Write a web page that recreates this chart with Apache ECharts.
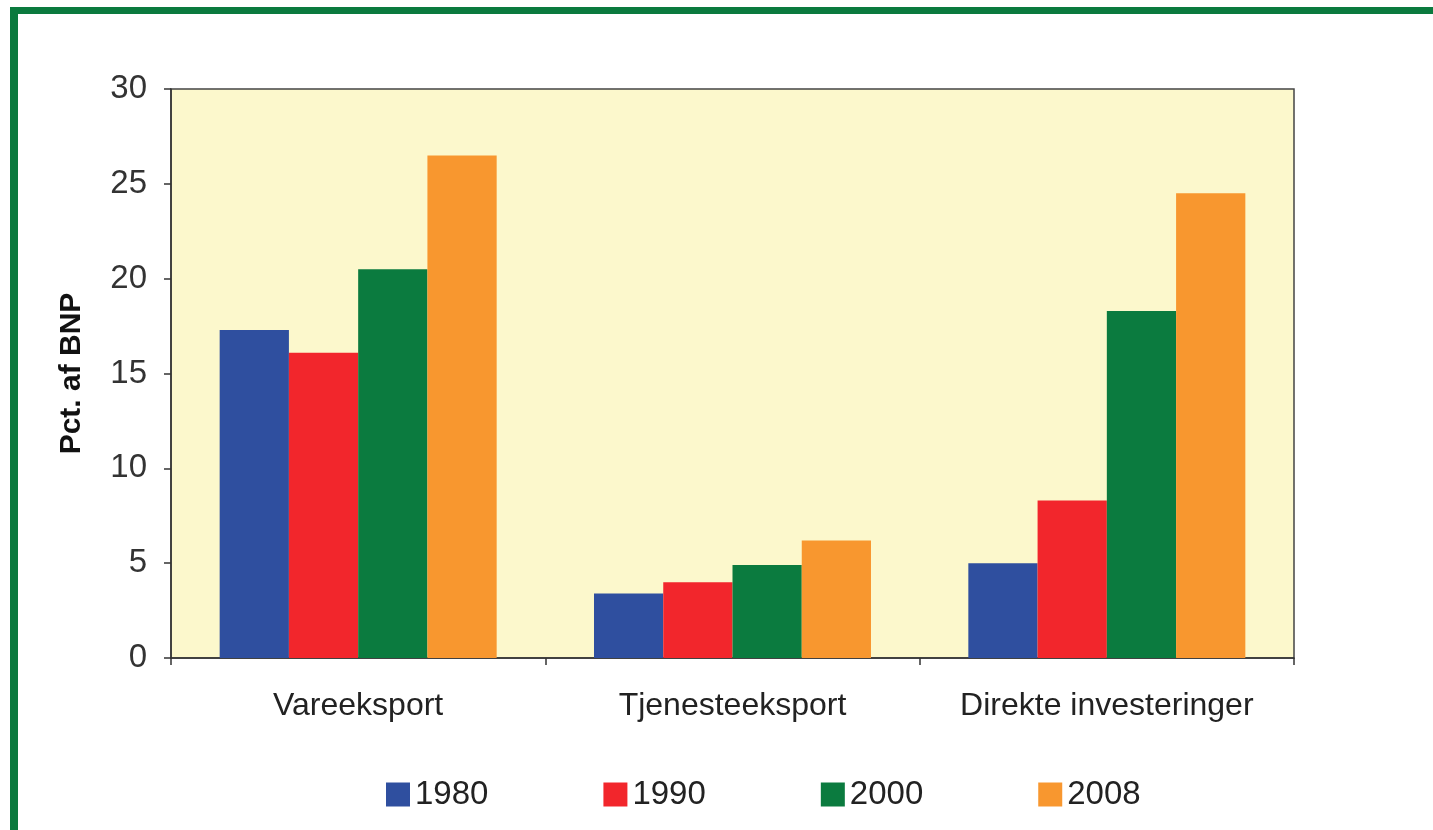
<!DOCTYPE html>
<html>
<head>
<meta charset="utf-8">
<title>Pct. af BNP</title>
<script src="https://cdn.jsdelivr.net/npm/echarts@6/dist/echarts.min.js"></script>
<style>
    html, body { margin: 0; padding: 0; background: #fff; }
    #frame {
        position: absolute; left: 10px; top: 7px; width: 1440px; height: 820px;
        border-left: 8px solid #0b7a3e; border-top: 7px solid #0b7a3e;
        border-bottom: 2px solid #bfe9d2;
        pointer-events: none;
    }
    #main { width: 1433px; height: 830px; }
</style>
</head>
<body>
<div id="main"></div>
<div id="frame"></div>
<script>
    // kategorier og værdier (pct. af BNP)
    var categories = ['Vareeksport', 'Tjenesteeksport', 'Direkte investeringer']
    var years = ['1980', '1990', '2000', '2008']
    var v1980 = [17.3, 3.4, 5.0]
    var v1990 = [16.1, 4.0, 8.3]
    var v2000 = [20.5, 4.9, 18.3]
    var v2008 = [26.5, 6.2, 24.5]
    var yTicks = [0, 5, 10, 15, 20, 25, 30]

    var colors = ['#2f4f9f', '#f2262c', '#0b7b3f', '#f8972f']
    var font = '"Liberation Sans", Arial, sans-serif'

    var myChart = echarts.init(document.getElementById('main'))
    var seriesData = [v1980, v1990, v2000, v2008]

    var option = {
        animation: false,
        textStyle: { fontFamily: font },
        grid: {
            left: 171, top: 89, right: 139, bottom: 172,
            show: true,
            backgroundColor: '#fcf8cc',
            borderColor: '#444',
            borderWidth: 1.5
        },
        legend: {
            data: years,
            left: 386, top: 778,
            padding: 0,
            itemWidth: 24, itemHeight: 24, itemGap: 115,
            icon: 'rect',
            textStyle: { fontSize: 33, color: '#222', fontFamily: font, padding: [0, 0, 0, 0] }
        },
        xAxis: {
            type: 'category',
            data: categories,
            axisLine: { lineStyle: { color: '#333', width: 1.5 } },
            axisTick: { show: true, interval: 0, length: 7, lineStyle: { color: '#333', width: 1.5 } },
            axisLabel: { interval: 0, hideOverlap: false, fontSize: 32, color: '#222', margin: 32, fontFamily: font }
        },
        yAxis: {
            type: 'value',
            min: yTicks[0], max: yTicks[yTicks.length - 1], interval: 5,
            name: 'Pct. af BNP',
            nameLocation: 'middle',
            nameRotate: 90,
            nameGap: 84,
            nameTextStyle: { fontSize: 30, fontWeight: 'bold', color: '#111', fontFamily: font },
            splitLine: { show: false },
            axisLine: { show: true, lineStyle: { color: '#333', width: 1.5 } },
            axisTick: { show: true, length: 7, lineStyle: { color: '#333', width: 1.5 } },
            axisLabel: { fontSize: 33, color: '#333', margin: 24, fontFamily: font }
        },
        series: years.map(function (y, i) {
            return {
                name: y,
                type: 'bar',
                data: seriesData[i],
                barGap: '0%',
                barCategoryGap: '26%',
                itemStyle: { color: colors[i] }
            }
        })
    }
    myChart.setOption(option)
</script>
</body>
</html>
